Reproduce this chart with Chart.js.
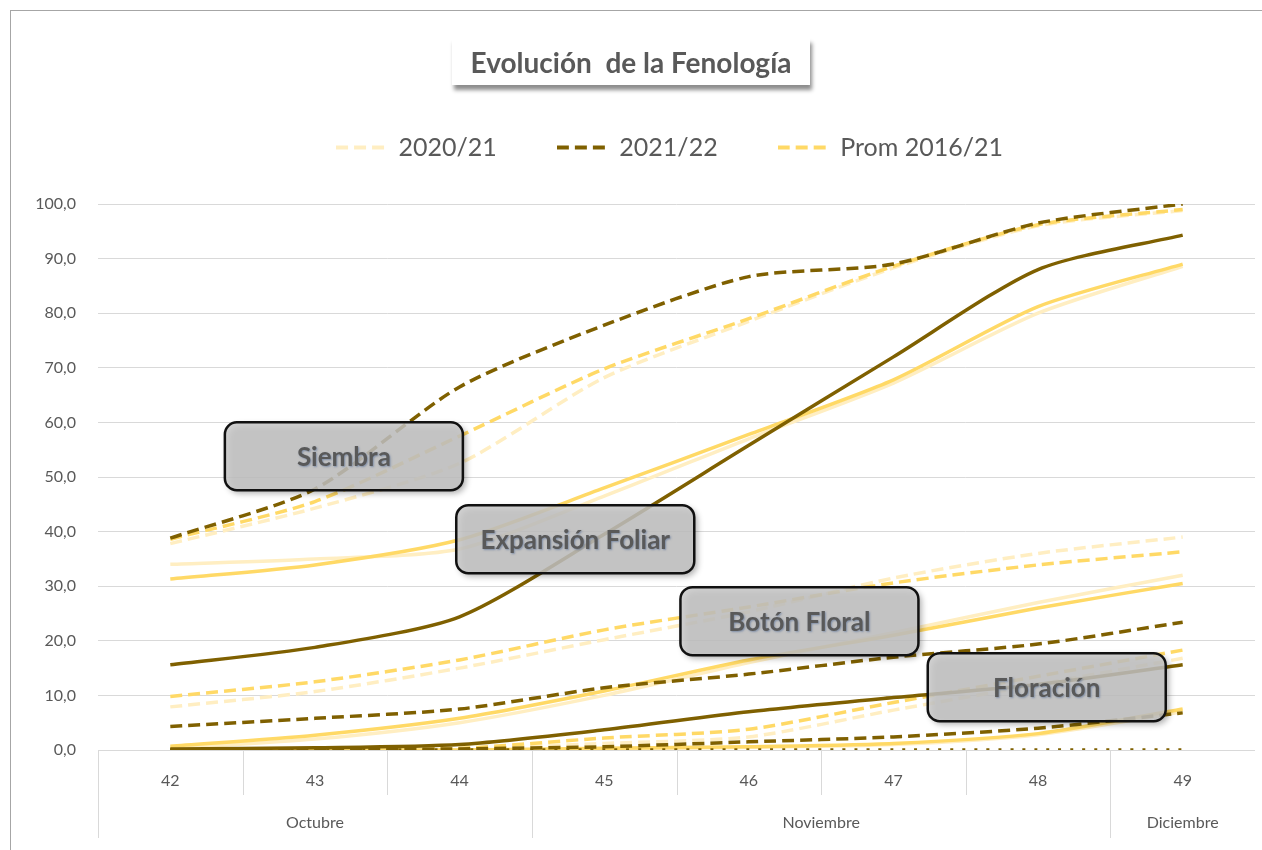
<!DOCTYPE html>
<html>
<head>
<meta charset="utf-8">
<script src="https://cdn.jsdelivr.net/npm/chart.js@4.4.1/dist/chart.umd.min.js"></script>
<style>
  html, body { margin: 0; padding: 0; background: #fff; }
  #wrap { position: relative; width: 1262px; height: 850px; overflow: hidden; }
  #title {
    position: absolute; left: 452px; top: 38px; width: 358px; height: 47px;
    background: #fff; box-shadow: 2px 5px 4px rgba(0,0,0,0.45);
    font: bold 28px Lato, sans-serif; color: #595959;
    display: flex; align-items: center; justify-content: center; white-space: pre;
  }
</style>
</head>
<body>
<div id="wrap">
  <canvas id="fenologia" width="1262" height="850"></canvas>
  <div id="title">Evolución  de la Fenología</div>
</div>
<script>
// semanas y meses
const weeks = ['42', '43', '44', '45', '46', '47', '48', '49'];
const months = ['Octubre', 'Noviembre', 'Diciembre'];
const monthWeeks = [3, 4, 1];
const seasons = ['2020/21', '2021/22', 'Prom 2016/21'];

// Siembra (dashed)
const siembra2021 = [37.8, 44.3, 52.5, 68.2, 78.5, 88.3, 96.0, 98.8];
const siembra2122 = [38.8, 47.8, 66.5, 77.8, 86.7, 89.0, 96.5, 100.0];
const siembraProm = [38.6, 45.5, 57.5, 69.8, 79.0, 88.6, 96.2, 99.0];

// Expansión foliar (solid)
const expansion2021 = [34.0, 35.0, 36.8, 46.5, 57.0, 67.2, 80.0, 88.6];
const expansion2122 = [15.6, 18.8, 24.4, 39.5, 55.8, 72.0, 88.0, 94.3];
const expansionProm = [31.3, 33.9, 38.5, 48.0, 57.8, 67.8, 81.2, 89.0];

// Botón floral (dashed)
const boton2021 = [7.9, 10.7, 15.0, 20.2, 25.3, 31.5, 36.0, 39.0];
const boton2122 = [4.3, 5.8, 7.5, 11.4, 13.9, 17.0, 19.4, 23.4];
const botonProm = [9.8, 12.5, 16.5, 22.0, 26.2, 30.6, 33.9, 36.3];

// Floración (solid)
const floracion2021 = [0.3, 2.0, 5.0, 10.0, 16.0, 21.5, 27.0, 32.0];
const floracion2122 = [0.2, 0.4, 1.0, 3.7, 7.0, 9.6, 12.0, 15.6];
const floracionProm = [0.7, 2.7, 5.8, 10.8, 16.5, 21.0, 26.0, 30.5];

// fases siguientes (sin etiqueta)
const fase5_2021 = [0, 0, 0.2, 1.2, 2.4, 7.3, 12.0, 16.8];
const fase5_2122 = [0, 0, 0.2, 0.6, 1.5, 2.4, 4.0, 6.8];
const fase5Prom = [0, 0, 0.3, 2.2, 3.8, 8.7, 13.5, 18.3];

const fase6_2021 = [0, 0, 0, 0.2, 0.5, 1.0, 2.8, 7.0];
const fase6_2122 = [0, 0, 0, 0, 0, 0, 0, 0];
const fase6Prom = [0, 0, 0, 0.3, 0.6, 1.2, 3.0, 7.5];

const cream = '#FFEEC2', dark = '#7F6000', gold = '#FFD966';
const DASH = [12, 6];

function series(label, data, color, dash, order) {
  return {
    label, data,
    borderColor: color, backgroundColor: color,
    borderWidth: 3.5, borderDash: dash, borderCapStyle: 'butt',
    pointRadius: 0, tension: 0.25, fill: false, order
  };
}
function phase(a, b, c, dash, darkDash) {
  return [
    series(seasons[0], a, cream, dash, 3),
    series(seasons[1], b, dark, darkDash || dash, 1),
    series(seasons[2], c, gold, dash, 2)
  ];
}

const datasets = [
  ...phase(siembra2021, siembra2122, siembraProm, DASH),
  ...phase(expansion2021, expansion2122, expansionProm, []),
  ...phase(boton2021, boton2122, botonProm, DASH),
  ...phase(floracion2021, floracion2122, floracionProm, []),
  ...phase(fase5_2021, fase5_2122, fase5Prom, DASH),
  ...phase(fase6_2021, fase6_2122, fase6Prom, [], [3, 9])
];

const FONT = 'Lato, sans-serif';
const GRAY = '#595959';

// small dashed swatch for the legend
function dashSwatch(color) {
  const c = document.createElement('canvas');
  c.width = 50; c.height = 6;
  const g = c.getContext('2d');
  g.fillStyle = color;
  for (let i = 0; i < 3; i++) g.fillRect(i * 18, 1, 12, 4);
  return c;
}

// outer frame, month row and category separators
const framePlugin = {
  id: 'frame',
  beforeDraw(chart) {
    const ctx = chart.ctx;
    ctx.save();
    ctx.fillStyle = '#fff';
    ctx.fillRect(0, 0, chart.width, chart.height);
    ctx.strokeStyle = '#a6a6a6';
    ctx.lineWidth = 1;
    ctx.strokeRect(10.5, 10.5, chart.width + 20, chart.height + 20);
    ctx.restore();
  },
  afterDraw(chart) {
    const x = chart.scales.x, ctx = chart.ctx;
    const bottom = chart.chartArea.bottom;
    const step = x.getPixelForValue(1) - x.getPixelForValue(0);
    ctx.save();
    ctx.strokeStyle = '#d9d9d9';
    ctx.lineWidth = 1;
    for (let i = 0; i < weeks.length; i++) {
      const px = Math.round(x.getPixelForValue(i) - step / 2) + 0.5;
      ctx.beginPath(); ctx.moveTo(px, bottom); ctx.lineTo(px, bottom + 45); ctx.stroke();
    }
    ctx.fillStyle = GRAY;
    ctx.font = '16px ' + FONT;
    ctx.textAlign = 'center';
    ctx.textBaseline = 'middle';
    let start = 0;
    months.forEach((m, k) => {
      const x0 = x.getPixelForValue(start) - step / 2;
      const x1 = x.getPixelForValue(start + monthWeeks[k] - 1) + step / 2;
      const px = Math.round(x0) + 0.5;
      ctx.beginPath(); ctx.moveTo(px, bottom); ctx.lineTo(px, bottom + 88); ctx.stroke();
      ctx.fillText(m, (x0 + Math.min(x1, chart.chartArea.right)) / 2, bottom + 73);
      start += monthWeeks[k];
    });
    ctx.restore();
  }
};

// grey rounded callouts
const calloutPlugin = {
  id: 'callouts',
  afterDatasetsDraw(chart, args, opts) {
    const ctx = chart.ctx, x = chart.scales.x, y = chart.scales.y;
    opts.items.forEach(it => {
      const cx = x.getPixelForValue(it.at[0]), cy = y.getPixelForValue(it.at[1]);
      const w = 238, h = 68, r = 12;
      const l = cx - w / 2, t = cy - h / 2;
      ctx.save();
      ctx.shadowColor = 'rgba(0,0,0,0.4)';
      ctx.shadowBlur = 6; ctx.shadowOffsetX = 3; ctx.shadowOffsetY = 3;
      ctx.beginPath();
      ctx.roundRect(l, t, w, h, r);
      ctx.fillStyle = 'rgba(200,200,200,0.82)';
      ctx.fill();
      ctx.shadowColor = 'transparent';
      ctx.lineWidth = 2.5;
      ctx.strokeStyle = '#111';
      ctx.stroke();
      ctx.font = 'bold 26px ' + FONT;
      ctx.textAlign = 'center';
      ctx.textBaseline = 'middle';
      ctx.shadowColor = 'rgba(60,90,140,0.5)';
      ctx.shadowBlur = 2; ctx.shadowOffsetX = 1; ctx.shadowOffsetY = 1;
      ctx.fillStyle = GRAY;
      ctx.fillText(it.text, cx, cy + 1);
      ctx.restore();
    });
  }
};

const legendFit = {
  id: 'legendFit',
  beforeInit(chart) {
    const fit = chart.legend.fit;
    chart.legend.fit = function () { fit.call(this); this.height = 129; };
  },
  afterLayout(chart) {
    chart.legend.left += 74;
  }
};

new Chart(document.getElementById('fenologia'), {
  type: 'line',
  data: { labels: weeks, datasets },
  plugins: [framePlugin, calloutPlugin, legendFit],
  options: {
    responsive: false,
    devicePixelRatio: 1,
    animation: false,
    layout: { padding: { top: 75, left: 10, right: 7, bottom: 0 } },
    plugins: {
      tooltip: { enabled: false },
      legend: {
        position: 'top',
        labels: {
          color: GRAY,
          font: { family: FONT, size: 25 },
          usePointStyle: true,
          pointStyleWidth: 50,
          padding: 60,
          filter: (item) => item.datasetIndex < 3,
          sort: (a, b) => a.datasetIndex - b.datasetIndex,
          generateLabels(chart) {
            const items = Chart.defaults.plugins.legend.labels.generateLabels(chart);
            items.forEach(it => { it.pointStyle = dashSwatch(it.strokeStyle); });
            return items;
          }
        }
      },
      callouts: {
        items: [
          { text: 'Siembra', at: [1.2, 53.8] },
          { text: 'Expansión Foliar', at: [2.8, 38.6] },
          { text: 'Botón Floral', at: [4.35, 23.6] },
          { text: 'Floración', at: [6.06, 11.5] }
        ]
      }
    },
    scales: {
      x: {
        offset: true,
        grid: { display: false, drawTicks: false },
        border: { display: false },
        ticks: { color: GRAY, font: { family: FONT, size: 16 }, padding: 21 },
        afterFit(scale) { scale.height = 100; }
      },
      y: {
        min: 0, max: 100,
        grid: { color: '#d9d9d9', drawTicks: false },
        border: { display: false },
        ticks: {
          stepSize: 10, padding: 22, color: GRAY,
          font: { family: FONT, size: 16 },
          callback: (v) => v.toFixed(1).replace('.', ',')
        },
        afterFit(scale) { scale.width = 88; }
      }
    }
  }
});
</script>
</body>
</html>
